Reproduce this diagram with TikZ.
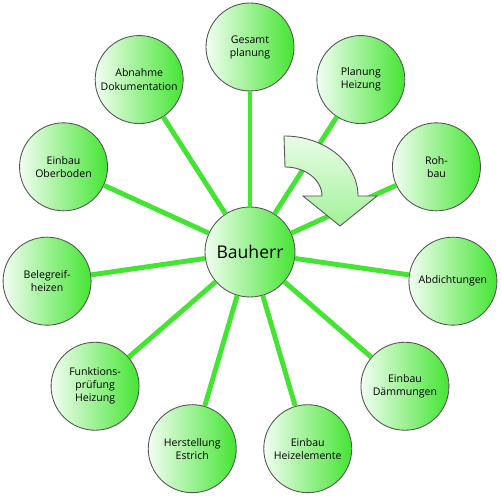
\documentclass[tikz,border=0pt]{standalone}
\usepackage{fontspec}
\setmainfont{Open Sans}
\usetikzlibrary{calc}
\definecolor{cgreen}{HTML}{44E532}
\definecolor{cpale}{HTML}{F2FEF2}
\definecolor{cline}{HTML}{555555}
\tikzset{
  every picture/.style={font=\fontsize{6}{7.4}\selectfont},
  stage/.style={circle, draw=cline, line width=0.5pt, left color=cpale, middle color=cgreen!45!cpale, right color=cgreen, minimum size=1.76cm, inner sep=0pt, align=center},
  hub/.style={stage, minimum size=1.8cm, font=\fontsize{10}{12}\selectfont},
  spoke/.style={draw=cgreen, line width=2.8pt},
  turn/.style={draw=cline, line width=0.5pt, top color=cgreen!12, bottom color=cgreen!50},
}
\begin{document}
\begin{tikzpicture}
  \useasboundingbox (0,0) rectangle (10.02,9.96);
  % centre
  \node[hub] (hub) at (5.0,4.92) {Bauherr};
  % stages round the centre, clockwise from the top
  \foreach \k/\t in {1/{Gesamt\\planung}, 2/{Planung\\Heizung}, 3/{Roh-\\bau}, 4/{Abdichtungen}, 5/{Einbau\\Dämmungen}, 6/{Einbau\\Heizelemente}, 7/{Herstellung\\Estrich}, 8/{Funktions-\\prüfung\\Heizung}, 9/{Belegreif-\\heizen}, 10/{Einbau\\Oberboden}, 11/{Abnahme\\Dokumentation}}
    \node[stage] (s\k) at ($(hub)+({90-(\k-1)*360/11}:4.1)$) {\t};
  \foreach \k in {1,...,11} \draw[spoke] (hub) -- (s\k);
  % turn arrow
  \draw[turn] (5.68,7.24) arc[start angle=90, end angle=0, x radius=1.48, y radius=1.2] -- (7.54,6.04) -- (6.80,5.44) -- (6.06,6.04) -- (6.44,6.04) arc[start angle=0, end angle=90, x radius=0.74, y radius=0.58] -- cycle;
\end{tikzpicture}
\end{document}
